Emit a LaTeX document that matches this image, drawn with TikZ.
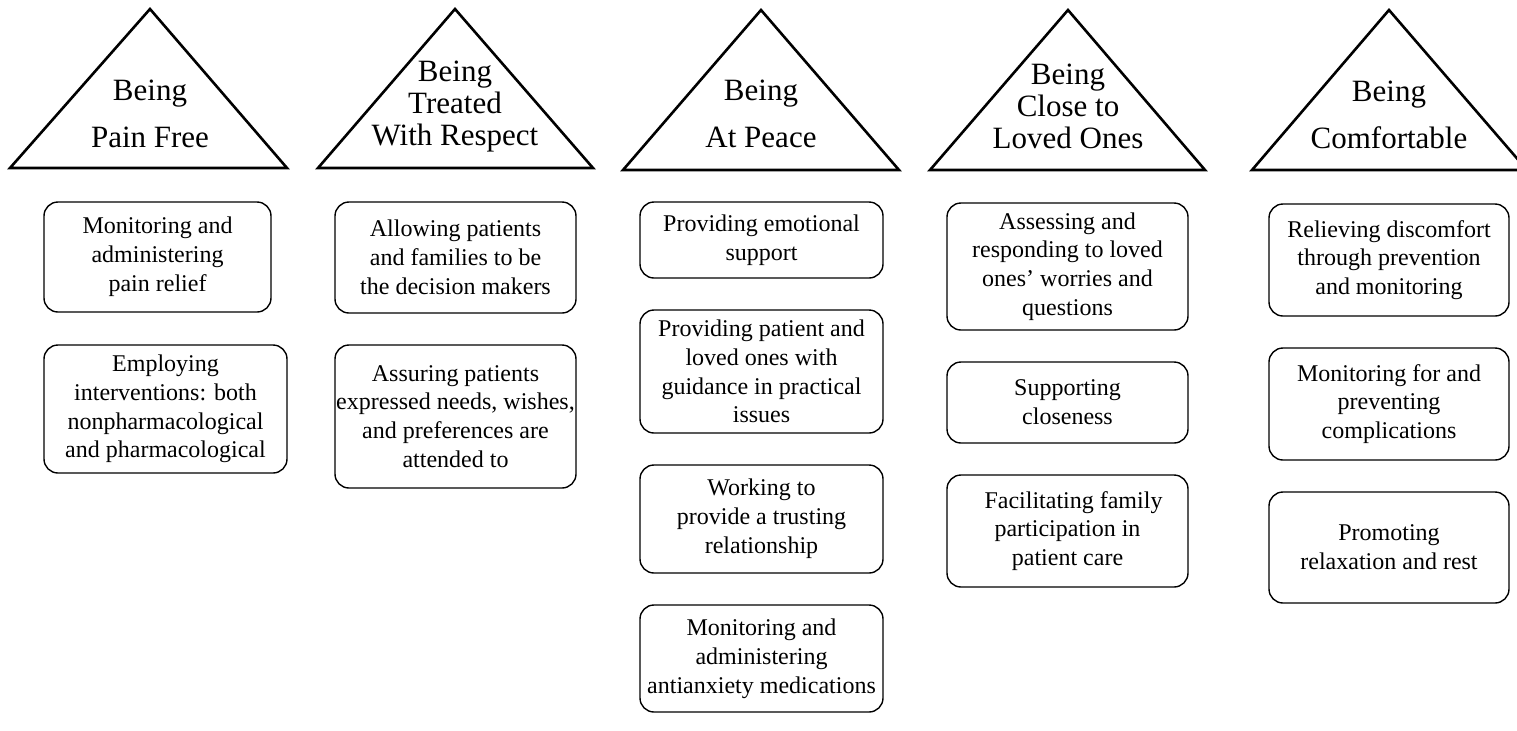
\documentclass[tikz,border=0pt]{standalone}
\usepackage{fontspec}
\setmainfont{Liberation Serif}

\tikzset{
  topic/.style={align=center, font=\fontsize{15.5}{16}\selectfont},
  item/.style={draw, line width=0.7pt, rounded corners=7pt, align=center,
    inner sep=0pt, minimum width=120.5pt, font=\fontsize{12}{14.4}\selectfont},
  tri/.style={draw, line width=1.3pt, line join=miter}
}

\begin{document}
\begin{tikzpicture}[x=0.5pt,y=-0.5pt]
\useasboundingbox (0,0) rectangle (1517,730);
\clip (0,0) rectangle (1517,730);
% triangles
\draw[tri] (10,168) -- (150,9) -- (287,168) -- cycle;
\draw[tri] (318,168) -- (455,9) -- (593,168) -- cycle;
\draw[tri] (623,170) -- (761,10) -- (899,170) -- cycle;
\draw[tri] (930,170) -- (1068,10) -- (1205,170) -- cycle;
\draw[tri] (1252,170) -- (1389,10) -- (1527,170) -- cycle;
\node[topic] (pain) at (150,114) {Being\\[7.5pt]Pain Free};
\node[topic] (respect) at (455,107) {Being\\Treated\\With Respect};
\node[topic] (peace) at (761,114) {Being\\[7.5pt]At Peace};
\node[topic] (close) at (1068,106) {Being\\Close to\\Loved Ones};
\node[topic] (comfort) at (1389,115) {Being\\[7.5pt]Comfortable};
% boxes under each triangle
\node[item, minimum width=113.5pt, minimum height=55pt] (pain1) at (157.5,257) {Monitoring and\\administering\\pain relief};
\node[item, minimum width=121.5pt, minimum height=64pt] (pain2) at (165.5,409) {Employing\\interventions: both\\nonpharmacological\\and pharmacological};
\node[item, minimum height=55.5pt] (respect1) at (455.5,257.5) {Allowing patients\\and families to be\\the decision makers};
\node[item, minimum height=71.5pt] (respect2) at (455.5,416.5) {Assuring patients\\expressed needs, wishes,\\and preferences are\\attended to};
\node[item, minimum width=121.5pt, minimum height=38pt] (peace1) at (761.5,240) {Providing emotional\\support};
\node[item, minimum width=121.5pt, minimum height=61.5pt] (peace2) at (761.5,371.5) {Providing patient and\\loved ones with\\guidance in practical\\issues};
\node[item, minimum width=121.5pt, minimum height=54pt] (peace3) at (761.5,519) {Working to\\provide a trusting\\relationship};
\node[item, minimum width=121.5pt, minimum height=53.5pt] (peace4) at (761.5,658.5) {Monitoring and\\administering\\antianxiety medications};
\node[item, minimum height=63.5pt] (close1) at (1067.5,266.5) {Assessing and\\responding to loved\\ones’ worries and\\questions};
\node[item, minimum height=40.5pt] (close2) at (1067.5,402.5) {Supporting\\closeness};
\node[item, minimum height=56pt] (close3) at (1067.5,531) {\hspace{6pt}Facilitating family\\participation in\\patient care};
\node[item, minimum width=120pt, minimum height=56pt] (comfort1) at (1389,260) {Relieving discomfort\\through prevention\\and monitoring};
\node[item, minimum width=120pt, minimum height=56pt] (comfort2) at (1389,404) {Monitoring for and\\preventing\\complications};
\node[item, minimum width=120pt, minimum height=55.5pt] (comfort3) at (1389,547.5) {Promoting\\relaxation and rest};
\end{tikzpicture}
\end{document}
